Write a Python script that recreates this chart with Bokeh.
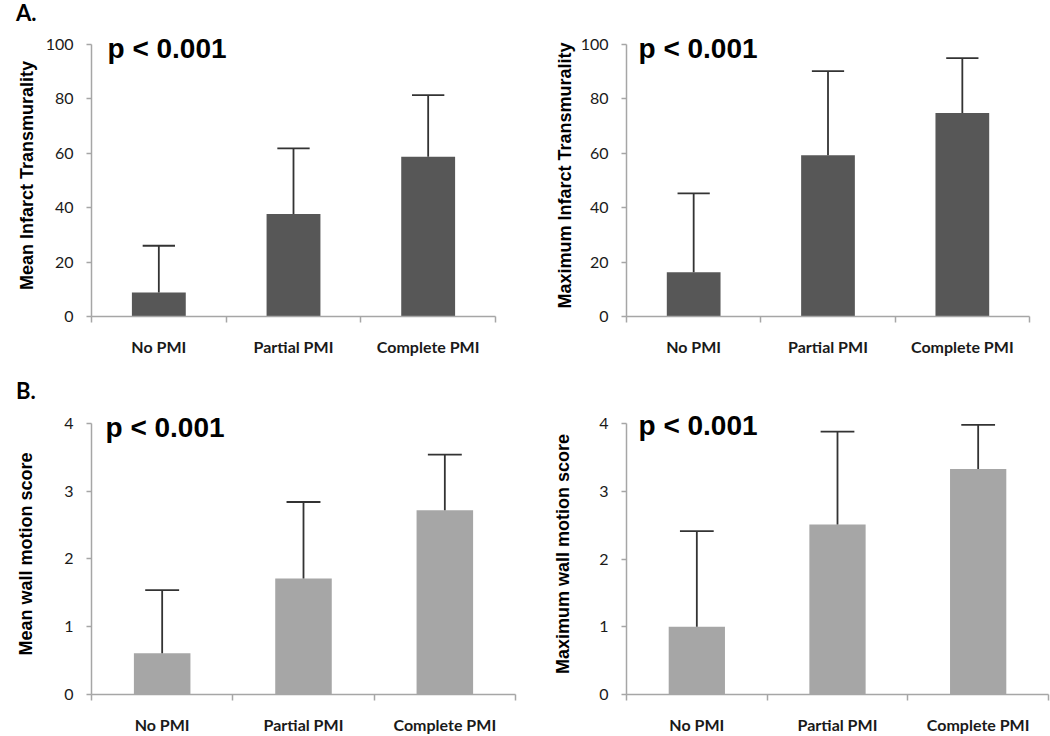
from bokeh.plotting import figure
from bokeh.layouts import column, row
from bokeh.models import FixedTicker, Range1d, Label, ColumnDataSource, Div
from bokeh.embed import file_html
from bokeh.resources import INLINE

categories = ["No PMI", "Partial PMI", "Complete PMI"]

mean_transmurality = [8.8, 37.7, 58.7]
mean_transmurality_sd = [17.2, 24.1, 22.7]

max_transmurality = [16.3, 59.3, 74.8]
max_transmurality_sd = [29.0, 30.9, 20.2]

mean_wms = [0.61, 1.71, 2.72]
mean_wms_sd = [0.93, 1.13, 0.82]

max_wms = [1.0, 2.51, 3.33]
max_wms_sd = [1.41, 1.37, 0.65]

p_text = "p < 0.001"
panel_letters = ["A.", "B."]
transmurality_ticks = [0, 20, 40, 60, 80, 100]
wms_ticks = [0, 1, 2, 3, 4]

AXIS_GREY = "#a6a6a6"
TEXT = "#1a1a1a"
TOP_PAD = 10  # px of empty frame above the top tick (room for the p-value text)


def panel(vals, sds, ylabel, yticks, color, width, height, borders,
          title_standoff, p_off):
    n = len(categories)
    xs = [i + 0.5 for i in range(n)]
    tops = [v + s for v, s in zip(vals, sds)]
    src = ColumnDataSource(dict(x=xs, v=vals, top=tops,
                                x0=[x - 0.12 for x in xs],
                                x1=[x + 0.12 for x in xs]))
    l, r, t, b = borders
    frame_h = height - t - b
    ymin, ymax = yticks[0], yticks[-1]
    y_end = ymin + (ymax - ymin) * frame_h / (frame_h - TOP_PAD)
    p = figure(width=width, height=height, output_backend="svg",
               toolbar_location=None, x_range=Range1d(0, n),
               y_range=Range1d(ymin, y_end))
    p.min_border_left = l
    p.min_border_right = r
    p.min_border_top = t
    p.min_border_bottom = b
    p.outline_line_color = None
    p.xgrid.visible = False
    p.ygrid.visible = False
    p.background_fill_color = "white"
    p.border_fill_color = "white"

    p.vbar(x="x", top="v", bottom=0, width=0.4, source=src,
           fill_color=color, line_color=None)
    p.segment(x0="x", y0="v", x1="x", y1="top", source=src,
              line_color="#333333", line_width=1.8)
    p.segment(x0="x0", y0="top", x1="x1", y1="top", source=src,
              line_color="#333333", line_width=1.8)

    xa = p.xaxis[0]
    xa.ticker = FixedTicker(ticks=xs, minor_ticks=list(range(n + 1)))
    xa.major_label_overrides = {x: c for x, c in zip(xs, categories)}
    xa.axis_line_color = AXIS_GREY
    xa.axis_line_width = 1.5
    xa.major_tick_out = 0
    xa.major_tick_in = 0
    xa.minor_tick_out = 6
    xa.minor_tick_in = 0
    xa.minor_tick_line_color = AXIS_GREY
    xa.minor_tick_line_width = 1.5
    xa.major_label_text_font = "Lato"
    xa.major_label_text_font_style = "bold"
    xa.major_label_text_font_size = "16px"
    xa.major_label_text_color = TEXT
    xa.major_label_standoff = 14

    ya = p.yaxis[0]
    ya.ticker = FixedTicker(ticks=yticks)
    ya.bounds = (ymin, ymax)
    ya.axis_line_color = AXIS_GREY
    ya.axis_line_width = 1.5
    ya.major_tick_out = 5
    ya.major_tick_in = 0
    ya.major_tick_line_color = AXIS_GREY
    ya.major_tick_line_width = 1.5
    ya.minor_tick_line_color = None
    ya.major_label_text_font = "Lato"
    ya.major_label_text_font_size = "16px"
    ya.major_label_text_color = TEXT
    ya.major_label_standoff = 13
    ya.axis_label = ylabel
    ya.axis_label_text_font = "Liberation Sans"
    ya.axis_label_text_font_style = "bold"
    ya.axis_label_text_font_size = "18px"
    ya.axis_label_text_color = "black"
    ya.axis_label_standoff = title_standoff

    p.add_layout(Label(x=0, y=ymax, x_offset=p_off[0], y_offset=p_off[1],
                       text=p_text, text_font="Liberation Sans",
                       text_font_style="bold", text_font_size="28px",
                       text_color="black", text_baseline="alphabetic"))
    return p


def letter_div(letter):
    html = ('<div style="font-family:Lato, sans-serif;font-weight:bold;'
            'font-size:22px;line-height:22px;padding:2px 0 0 16px;'
            'margin:0;color:black;">%s</div>' % letter)
    return Div(text=html, width=1050, height=28, margin=0)


p1 = panel(mean_transmurality, mean_transmurality_sd, "Mean Infarct Transmurality",
           transmurality_ticks, "#575757", 533, 350, (91, 38, 6, 61), 6,
           (16, -4))
p2 = panel(max_transmurality, max_transmurality_sd, "Maximum Infarct Transmurality",
           transmurality_ticks, "#575757", 517, 350, (93, 21, 6, 62), 3,
           (12, -4))
p3 = panel(mean_wms, mean_wms_sd, "Mean wall motion score",
           wms_ticks, "#a6a6a6", 533, 330, (91, 18, 5, 41), 25,
           (14, -4))
p4 = panel(max_wms, max_wms_sd, "Maximum wall motion score",
           wms_ticks, "#a6a6a6", 517, 330, (93, 2, 7, 42), 23,
           (12, -2))

layout = column(letter_div(panel_letters[0]), row(p1, p2),
                letter_div(panel_letters[1]), row(p3, p4), spacing=0)
open("out.html", "w").write(file_html(layout, INLINE))
